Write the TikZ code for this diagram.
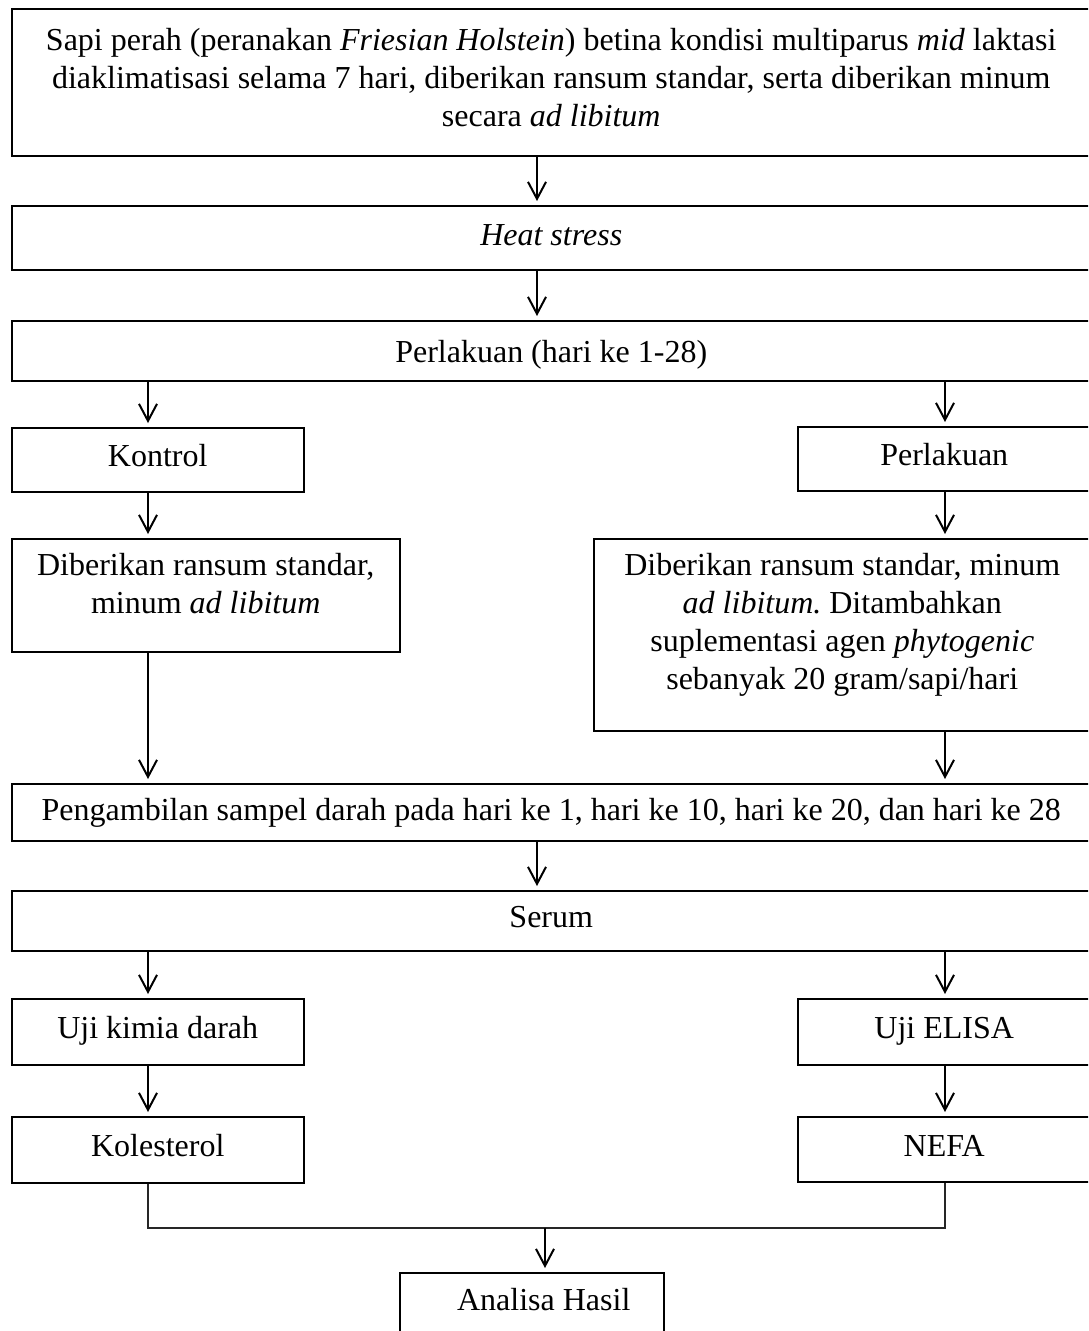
\documentclass[tikz,border=0pt]{standalone}
\usepackage{fontspec}
\setmainfont{Liberation Serif}
\usetikzlibrary{arrows.meta,calc}
\frenchspacing
\newcommand\bx[4][10pt]{\parbox[c][#3][t]{#2}{\vspace*{#1}\centering\strut #4\par}}
\tikzset{
  box/.style={draw=black, line width=1.5pt, inner sep=0pt, anchor=north west, font=\fontsize{32pt}{38pt}\selectfont},
  arr/.style={draw=black, line width=2pt, -{Straight Barb[length=17pt,width=18pt,line width=2pt]}, shorten >=4pt},
  lnk/.style={draw=black!85, line width=2pt}
}
\begin{document}
\begin{tikzpicture}[x=1pt,y=-1pt]
\useasboundingbox (0,0) rectangle (1088,1331);
\clip (0,0) rectangle (1088,1331);
\fill[white] (0,0) rectangle (1088,1331);
% column coordinates
\coordinate (cM) at (537,0);
\coordinate (cL) at (148,0);
\coordinate (cR) at (945,0);
\coordinate (cB) at (545,0);
% boxes
\node[box] (b1) at (11,8) {\bx[15pt]{1079pt}{147pt}{Sapi perah (peranakan \textit{Friesian Holstein}) betina kondisi multiparus \textit{mid} laktasi\\ diaklimatisasi selama 7 hari, diberikan ransum standar, serta diberikan minum\\ secara \textit{ad libitum}}};
\node[box] (b2) at (11,205) {\bx[13pt]{1079pt}{64pt}{\textit{Heat stress}}};
\node[box] (b3) at (11,320) {\bx[15pt]{1079pt}{60pt}{Perlakuan (hari ke 1-28)}};
\node[box] (kon) at (11,427) {\bx[12pt]{292pt}{64pt}{Kontrol}};
\node[box] (per) at (797,426) {\bx[12pt]{293pt}{64pt}{Perlakuan}};
\node[box] (dl) at (11,538) {\bx{388pt}{113pt}{Diberikan ransum standar,\\ minum \textit{ad libitum}}};
\node[box] (dr) at (593,538) {\bx{497pt}{192pt}{Diberikan ransum standar, minum\\ \textit{ad libitum.} Ditambahkan\\ suplementasi agen \textit{phytogenic}\\ sebanyak 20 gram/sapi/hari}};
\node[box] (samp) at (11,783) {\bx{1079pt}{57pt}{Pengambilan sampel darah pada hari ke 1, hari ke 10, hari ke 20, dan hari ke 28}};
\node[box] (ser) at (11,890) {\bx{1079pt}{60pt}{Serum}};
\node[box] (u1) at (11,998) {\bx[13pt]{292pt}{66pt}{Uji kimia darah}};
\node[box] (u2) at (797,998) {\bx[13pt]{293pt}{66pt}{Uji ELISA}};
\node[box] (kol) at (11,1116) {\bx[13pt]{292pt}{66pt}{Kolesterol}};
\node[box] (nef) at (797,1116) {\bx[13pt]{293pt}{65pt}{NEFA}};
\node[box] (has) at (399,1272) {\bx[11pt]{264pt}{80pt}{\hspace*{24pt}Analisa Hasil}};
% connectors
\draw[arr] (b1.south -| cM) -- (b2.north -| cM);
\draw[arr] (b2.south -| cM) -- (b3.north -| cM);
\draw[arr] (b3.south -| cL) -- (kon.north -| cL);
\draw[arr] (b3.south -| cR) -- (per.north -| cR);
\draw[arr] (kon.south -| cL) -- (dl.north -| cL);
\draw[arr] (per.south -| cR) -- (dr.north -| cR);
\draw[arr] (dl.south -| cL) -- (samp.north -| cL);
\draw[arr] (dr.south -| cR) -- (samp.north -| cR);
\draw[arr] (samp.south -| cM) -- (ser.north -| cM);
\draw[arr] (ser.south -| cL) -- (u1.north -| cL);
\draw[arr] (ser.south -| cR) -- (u2.north -| cR);
\draw[arr] (u1.south -| cL) -- (kol.north -| cL);
\draw[arr] (u2.south -| cR) -- (nef.north -| cR);
\coordinate (jL) at ($(kol.south -| cL)+(0,44)$);
\coordinate (jR) at (jL -| cR);
\coordinate (jM) at (jL -| cB);
\draw[lnk] (kol.south -| cL) -- (jL) -- (jR) -- (nef.south -| cR);
\draw[arr] (jM) -- (has.north -| cB);
\end{tikzpicture}
\end{document}
